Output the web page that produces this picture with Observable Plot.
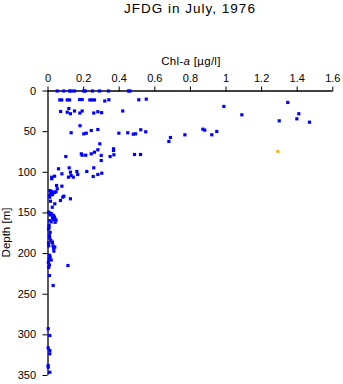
<!DOCTYPE html>
<html><head><meta charset="utf-8">
<script src="https://cdn.jsdelivr.net/npm/d3@7"></script>
<script src="https://cdn.jsdelivr.net/npm/@observablehq/plot@0.6"></script>
<style>body{margin:0;background:#fff;}</style>
</head><body><div id="chart"></div>
<script>
// Chl-a [µg/l] values and matching depths [m]
const chl = [
  0.052,0.089,0.121,0.131,0.149,0.201,0.209,0.25,0.289,0.34,0.452,0.461,
  0.066,0.077,0.108,0.121,0.178,0.192,0.235,0.248,0.261,0.319,0.342,0.51,0.552,
  0.071,0.108,0.117,0.126,0.149,0.179,0.192,0.257,0.28,0.301,0.42,
  0.18,
  0.130,0.201,0.215,0.243,0.280,0.398,0.448,0.479,0.492,0.521,0.549,
  0.688,0.679,0.769,0.870,0.881,0.920,0.948,0.988,1.089,1.347,1.299,1.409,1.398,1.469,
  0.291,0.280,0.368,0.368,0.370,0.100,0.187,0.192,0.212,0.243,0.261,0.299,0.299,0.349,0.486,0.520,
  0.059,0.078,0.119,0.126,0.130,0.115,0.142,0.162,0.167,0.218,0.254,0.257,0.280,0.302,0.021,0.021,0.037,
  0.048,0.078,0.052,0.01,0.02,0.03,0.015,0.025,0.035,0.045,0.008,0.089,0.126,0.070,0.038,0.014,0.010,0.024,0.083,
  0.003,0.01,0.02,0.012,0.03,0.036,0.025,0.04,0.045,0.008,0.018,0.04,0.028,
  0.006,0.006,0.003,0.012,0.008,0.01,0.016,0.025,0.003,0.024,
  0.004,0.028,0.038,0.032,0.033,
  0.008,0.012,0.006,0.018,0.002,0.008,0.004,0.112,0.008,0.029,
  0.001,0.01,0.001,0.01,0.01,0.001,0.001,0.01
];
const depth = [
  0,0,0,0,0,0,0,0,0,0,0,0,
  11,11,11,11,10.5,10.5,11,11,11,12.3,10.8,10.8,10,
  25.2,26.1,21.6,28,24.6,27.1,24.6,27.1,25.5,26.7,24.6,
  42.7,
  51.4,52.7,51.9,48.6,47.4,51.9,51.4,53.1,52.7,47.7,50.2,
  57.2,62.1,53.9,47,48.2,53.9,49.8,19,29.3,14.1,36.7,28,34.2,38.4,
  65,72.3,71.1,73.2,78.5,80.6,77.3,79,79,77.3,75.3,79.3,85.5,80.6,78.1,78.1,
  95.7,101.9,94.5,99.9,104,106,106,99,102.7,99,105.2,94.5,102.7,101.1,106,108,104.8,
  116.3,117.1,120.3,122.5,123.5,124.5,126.5,127.5,125,124,128.5,129.4,132.6,134.7,138.8,135.6,130.6,143,130.6,
  149,150,151,152.5,153,155,156,157.5,159,159.5,161,161.5,158,
  165,168,170,174,178,181,184,186,187,186.5,
  190.5,190.5,192,193.5,197,
  202,204,207,208,211,214,217,214.7,227,239.3,
  292.5,300.8,316,319.2,323.3,337.7,339.7,346
];
// the single highlighted (orange) sample
const chlHi = [1.291];
const depthHi = [74.4];

const xTicks = [0,0.2,0.4,0.6,0.8,1,1.2,1.4,1.6];
const yTicks = [0,50,100,150,200,250,300,350];

const pts = chl.map((c,i)=>({chl:c, depth:depth[i]}));
const hi = chlHi.map((c,i)=>({chl:c, depth:depthHi[i]}));

const svg = Plot.plot({
  width:343, height:384,
  marginTop:90.5, marginLeft:47.5, marginRight:10.7, marginBottom:9,
  style:{fontFamily:"'Liberation Sans', Arial, Helvetica, sans-serif", fontSize:"11px", color:"#000", background:"#fff"},
  x:{domain:[0,1.6]},
  y:{domain:[0,350], reverse:true},
  marks:[
    Plot.axisX({anchor:"top", ticks:xTicks, tickSize:5, tickPadding:4, tickFormat:d3.format("~g"), label:null, stroke:"#000"}),
    Plot.axisY({anchor:"left", ticks:yTicks, tickSize:5, tickPadding:7, label:null, stroke:"#000"}),
    Plot.ruleY([0], {stroke:"#000", strokeWidth:1.3}),
    Plot.ruleX([0], {stroke:"#000", strokeWidth:1.3}),
    Plot.dot(pts, {x:"chl", y:"depth", symbol:"square", r:1.8, fill:"#0000ff", stroke:null}),
    Plot.dot(hi, {x:"chl", y:"depth", symbol:"square", r:1.6, fill:"#ffa500", stroke:null})
  ]
});

const s = d3.select(svg);
s.append("text").attr("x",190).attr("y",13).attr("text-anchor","middle")
  .style("font-size","13.5px").style("letter-spacing","1px").attr("fill","#000")
  .text("JFDG in July, 1976");
const xl = s.append("text").attr("x",191).attr("y",64.5).attr("text-anchor","middle")
  .style("font-size","11.5px").style("letter-spacing","0.3px").attr("fill","#000");
xl.append("tspan").text("Chl-");
xl.append("tspan").style("font-style","italic").text("a");
xl.append("tspan").text(" [µg/l]");
s.append("text").attr("transform","translate(9.5,232.5) rotate(-90)").attr("text-anchor","middle")
  .style("font-size","11.5px").attr("fill","#000").text("Depth [m]");

document.getElementById("chart").appendChild(svg);
</script>
</body></html>
